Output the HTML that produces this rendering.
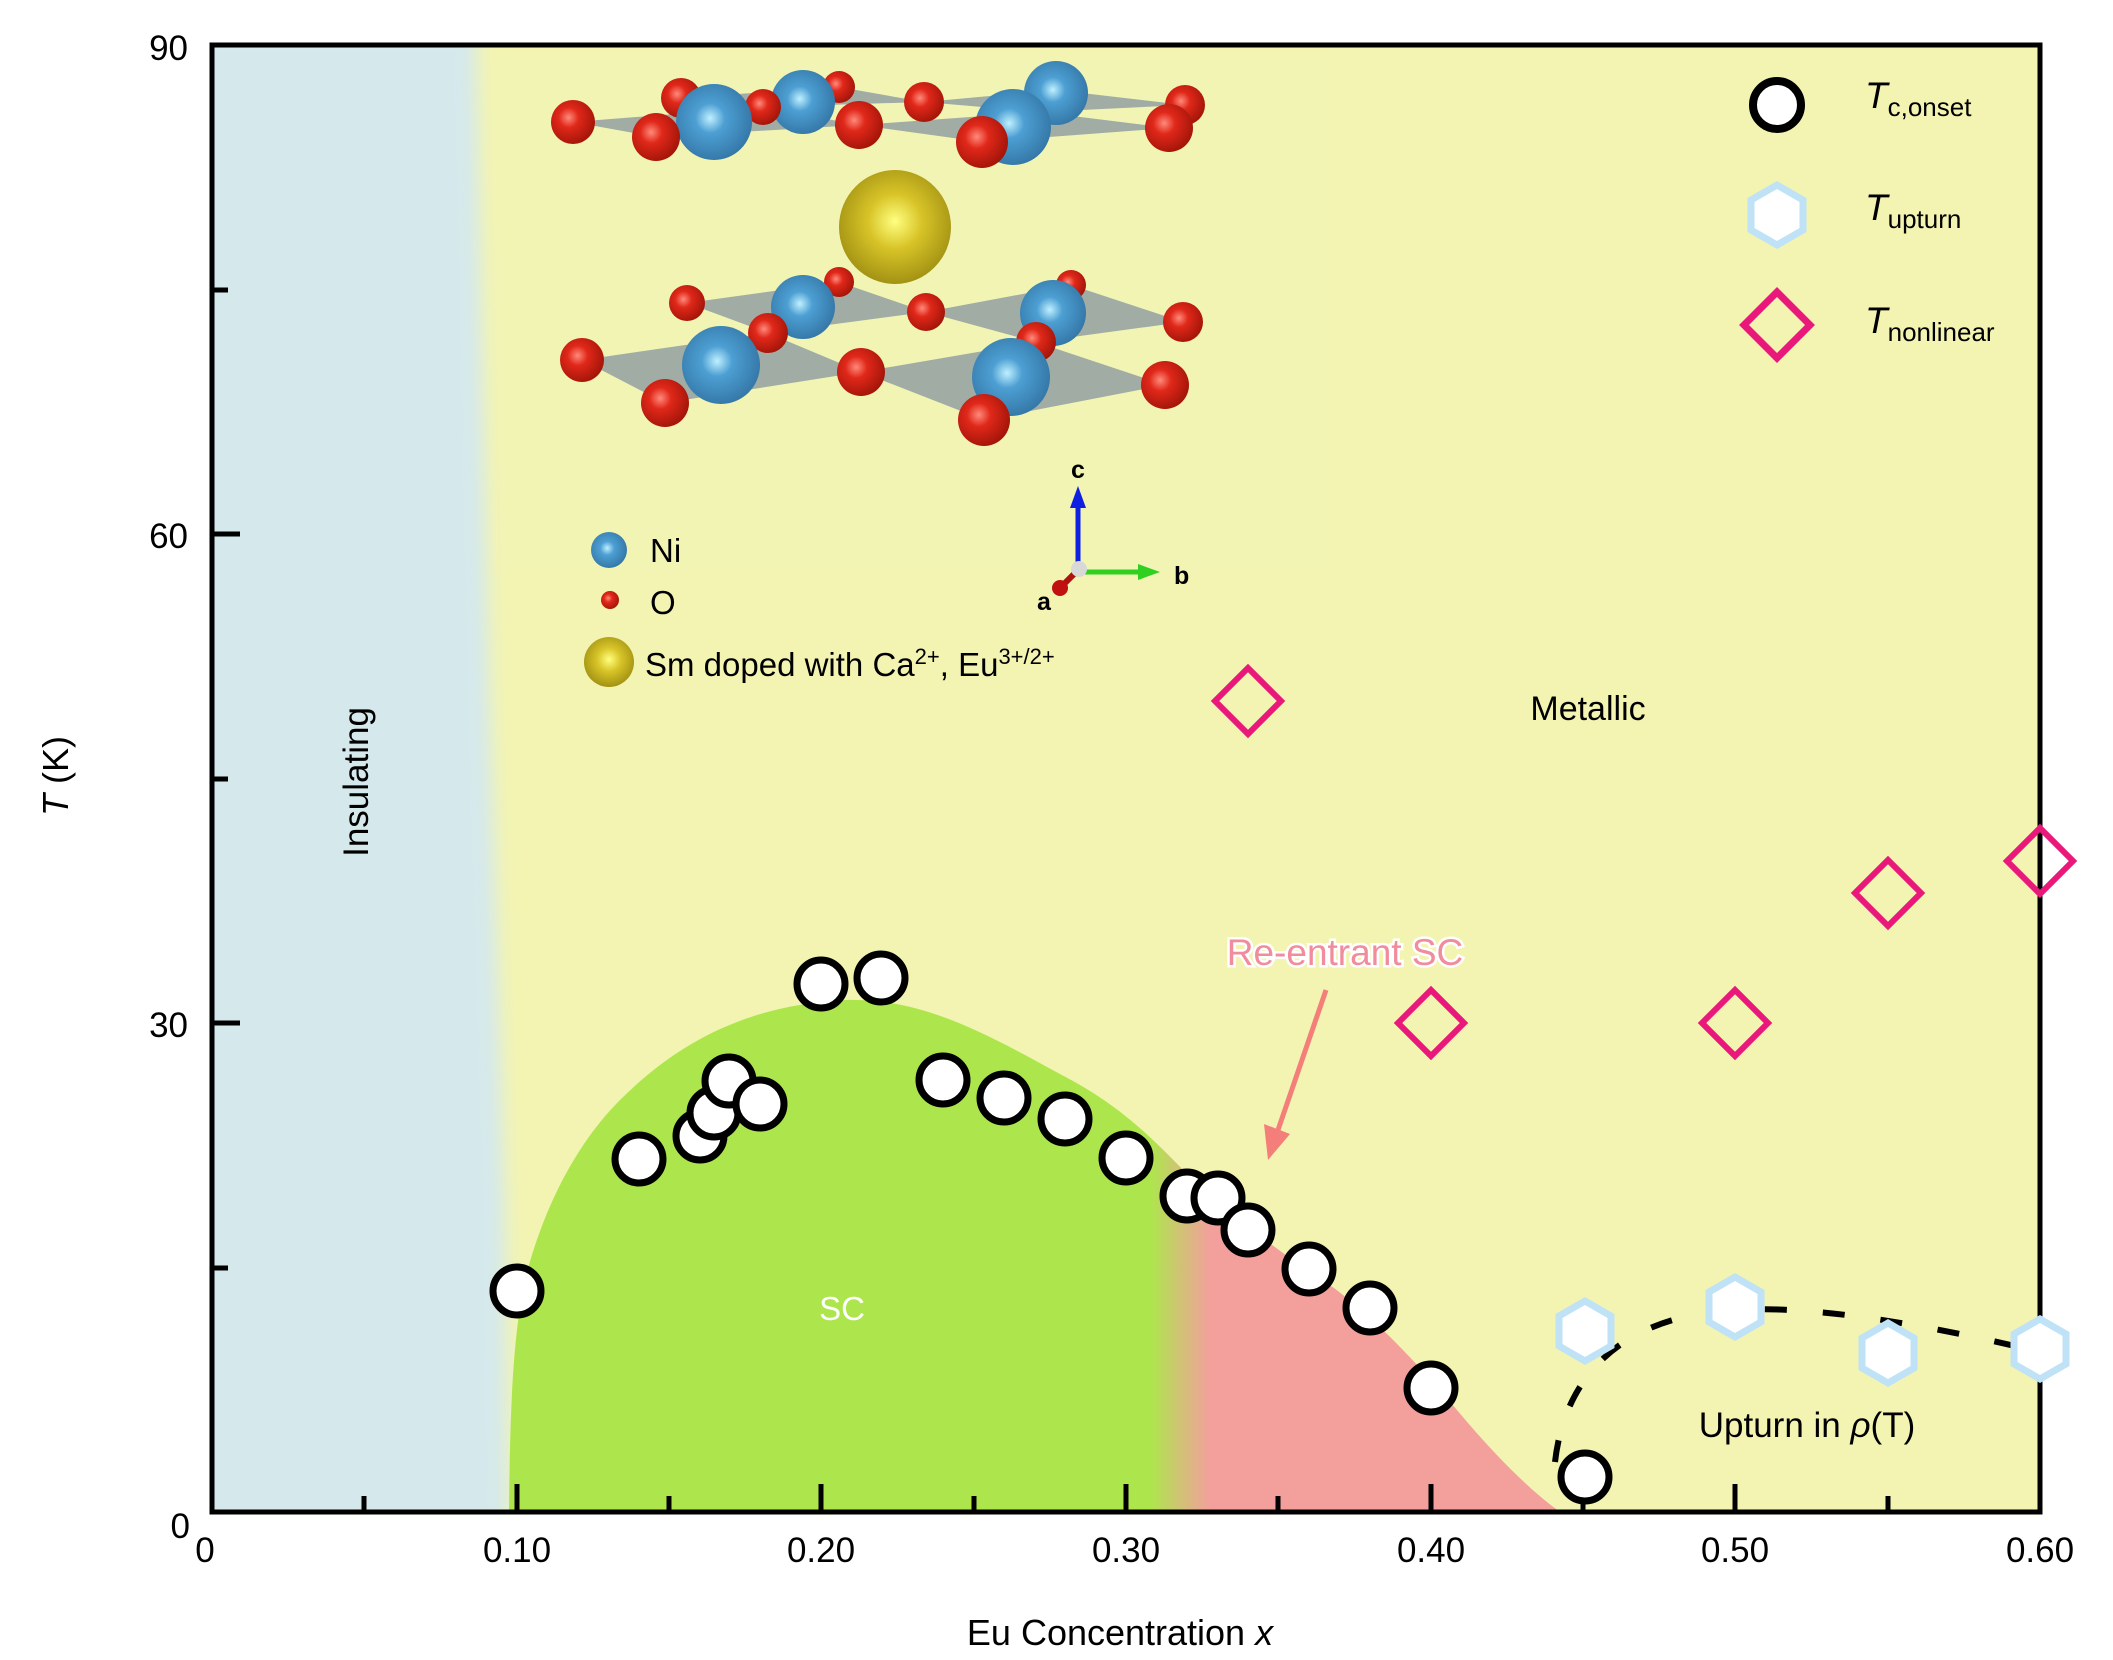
<!DOCTYPE html>
<html><head><meta charset="utf-8"><style>
html,body{margin:0;padding:0;background:#fff;}
svg{display:block;font-family:"Liberation Sans",Arial,sans-serif;}
</style></head><body>
<svg width="2113" height="1660" viewBox="0 0 2113 1660" xmlns="http://www.w3.org/2000/svg">
<defs>
<filter id="blur" x="-20%" y="-5%" width="140%" height="110%"><feGaussianBlur stdDeviation="9"/></filter>
<linearGradient id="dome" gradientUnits="userSpaceOnUse" x1="1150" x2="1210" y1="0" y2="0">
<stop offset="0" stop-color="#ade64c"/><stop offset="1" stop-color="#f3a09c"/></linearGradient>
<radialGradient id="gO" cx="0.4" cy="0.4" r="0.65"><stop offset="0" stop-color="#ff8a7a"/><stop offset="0.35" stop-color="#e0281a"/><stop offset="1" stop-color="#a01408"/></radialGradient>
<radialGradient id="gN" cx="0.45" cy="0.45" r="0.65"><stop offset="0" stop-color="#bff0ff"/><stop offset="0.3" stop-color="#4d9fd3"/><stop offset="1" stop-color="#2f6f9e"/></radialGradient>
<radialGradient id="gS" cx="0.5" cy="0.45" r="0.6"><stop offset="0" stop-color="#ffff80"/><stop offset="0.4" stop-color="#d8c428"/><stop offset="1" stop-color="#9a8a10"/></radialGradient>
<clipPath id="plot"><rect x="212" y="45" width="1828" height="1467"/></clipPath>
</defs>
<g clip-path="url(#plot)">
<rect x="212" y="45" width="1828" height="1467" fill="#f3f4b2"/>
<path d="M150,30 L476,30 L490,700 L505,1200 L509,1530 L150,1530 Z" fill="#d5e9ec" filter="url(#blur)"/>
<rect x="495" y="60" width="832" height="512" fill="#f2f3b6" opacity="0.6"/>
<path d="M509,1512 C510,1420 512,1340 525,1280 C540,1220 570,1150 620,1100 C680,1040 750,1005 845,1000 C920,998 980,1030 1060,1074 C1110,1100 1140,1125 1186,1173 C1230,1215 1290,1260 1334,1288 C1390,1330 1440,1390 1468,1423 C1500,1460 1530,1490 1560,1512 Z" fill="url(#dome)"/>
</g>
<!-- crystal -->
<g>
<g fill="#5f7398" opacity="0.55">
<polygon points="681,98 839,87 924,102 763,107"/>
<polygon points="924,102 1056,90 1185,105 1040,112"/>
<polygon points="573,122 763,107 859,125 656,137"/>
<polygon points="859,125 1040,112 1169,128 982,142"/>
<polygon points="687,303 839,282 926,312 768,333"/>
<polygon points="926,312 1071,285 1183,322 1036,342"/>
<polygon points="582,360 768,333 861,372 665,403"/>
<polygon points="861,372 1036,342 1165,385 984,420"/>
</g>
<circle cx="681" cy="98" r="20" fill="url(#gO)"/><circle cx="839" cy="87" r="16" fill="url(#gO)"/>
<circle cx="803" cy="102" r="32" fill="url(#gN)"/><circle cx="1056" cy="93" r="32" fill="url(#gN)"/>
<circle cx="763" cy="107" r="18" fill="url(#gO)"/><circle cx="924" cy="102" r="20" fill="url(#gO)"/><circle cx="1185" cy="105" r="20" fill="url(#gO)"/>
<circle cx="714" cy="122" r="38" fill="url(#gN)"/><circle cx="1013" cy="127" r="38" fill="url(#gN)"/>
<circle cx="573" cy="122" r="22" fill="url(#gO)"/><circle cx="656" cy="137" r="24" fill="url(#gO)"/><circle cx="859" cy="125" r="24" fill="url(#gO)"/><circle cx="982" cy="142" r="26" fill="url(#gO)"/><circle cx="1169" cy="128" r="24" fill="url(#gO)"/>
<ellipse cx="895" cy="227" rx="56" ry="57" fill="url(#gS)"/>
<circle cx="839" cy="282" r="15" fill="url(#gO)"/><circle cx="1071" cy="285" r="15" fill="url(#gO)"/>
<circle cx="803" cy="307" r="32" fill="url(#gN)"/><circle cx="1053" cy="313" r="33" fill="url(#gN)"/>
<circle cx="687" cy="303" r="18" fill="url(#gO)"/><circle cx="926" cy="312" r="19" fill="url(#gO)"/><circle cx="1183" cy="322" r="20" fill="url(#gO)"/>
<circle cx="768" cy="333" r="20" fill="url(#gO)"/><circle cx="1036" cy="342" r="20" fill="url(#gO)"/>
<circle cx="721" cy="365" r="39" fill="url(#gN)"/><circle cx="1011" cy="377" r="39" fill="url(#gN)"/>
<circle cx="582" cy="360" r="22" fill="url(#gO)"/><circle cx="861" cy="372" r="24" fill="url(#gO)"/><circle cx="665" cy="403" r="24" fill="url(#gO)"/><circle cx="984" cy="420" r="26" fill="url(#gO)"/><circle cx="1165" cy="385" r="24" fill="url(#gO)"/>
<!-- legend inset -->
<circle cx="609" cy="550" r="18" fill="url(#gN)"/><circle cx="610" cy="600" r="9" fill="url(#gO)"/><circle cx="609" cy="662" r="25" fill="url(#gS)"/>
<text x="650" y="562" font-size="33">Ni</text>
<text x="650" y="614" font-size="33">O</text>
<text x="645" y="676" font-size="33">Sm doped with Ca<tspan dy="-12" font-size="22">2+</tspan><tspan dy="12">, Eu</tspan><tspan dy="-12" font-size="22">3+/2+</tspan></text>
<line x1="1078" y1="567" x2="1078" y2="505" stroke="#1020e0" stroke-width="5"/><polygon points="1070,508 1086,508 1078,486" fill="#1020e0"/>
<line x1="1078" y1="572" x2="1140" y2="572" stroke="#30d020" stroke-width="5"/><polygon points="1138,564 1138,580 1160,572" fill="#30d020"/>
<line x1="1078" y1="570" x2="1062" y2="586" stroke="#b01010" stroke-width="6"/><circle cx="1060" cy="588" r="8" fill="#c01010"/>
<circle cx="1079" cy="569" r="8" fill="#d8d8d8"/>
<text x="1078" y="478" font-size="25" font-weight="bold" text-anchor="middle">c</text>
<text x="1174" y="584" font-size="25" font-weight="bold">b</text>
<text x="1044" y="610" font-size="25" font-weight="bold" text-anchor="middle">a</text>
</g>
<!-- axes -->
<g stroke="#000" stroke-width="5">
<rect x="212" y="45" width="1828" height="1467" fill="none"/>
<line x1="212" y1="1268" x2="228" y2="1268"/><line x1="212" y1="779" x2="228" y2="779"/><line x1="212" y1="290" x2="228" y2="290"/>
<line x1="212" y1="1023" x2="240" y2="1023"/><line x1="212" y1="534" x2="240" y2="534"/>
<line x1="364" y1="1512" x2="364" y2="1496"/><line x1="517" y1="1512" x2="517" y2="1484"/><line x1="669" y1="1512" x2="669" y2="1496"/><line x1="821" y1="1512" x2="821" y2="1484"/><line x1="974" y1="1512" x2="974" y2="1496"/><line x1="1126" y1="1512" x2="1126" y2="1484"/><line x1="1278" y1="1512" x2="1278" y2="1496"/><line x1="1431" y1="1512" x2="1431" y2="1484"/><line x1="1583" y1="1512" x2="1583" y2="1496"/><line x1="1735" y1="1512" x2="1735" y2="1484"/><line x1="1888" y1="1512" x2="1888" y2="1496"/>
</g>
<g font-size="35" text-anchor="end">
<text x="188" y="60">90</text><text x="188" y="548">60</text><text x="188" y="1037">30</text><text x="190" y="1538">0</text>
</g>
<g font-size="35" text-anchor="middle">
<text x="205" y="1562">0</text><text x="517" y="1562">0.10</text><text x="821" y="1562">0.20</text><text x="1126" y="1562">0.30</text><text x="1431" y="1562">0.40</text><text x="1735" y="1562">0.50</text><text x="2040" y="1562">0.60</text>
</g>
<text x="1120" y="1645" font-size="36" text-anchor="middle">Eu Concentration <tspan font-style="italic">x</tspan></text>
<text transform="translate(68,776) rotate(-90)" font-size="36" text-anchor="middle"><tspan font-style="italic">T</tspan> (K)</text>
<text transform="translate(368,782) rotate(-90)" font-size="35" text-anchor="middle">Insulating</text>
<text x="1588" y="720" font-size="34" text-anchor="middle">Metallic</text>
<text x="842" y="1320" font-size="33" fill="#fff" text-anchor="middle">SC</text>
<text x="1345" y="965" font-size="37" fill="#f08c9c" stroke="#fff" stroke-width="5" paint-order="stroke" text-anchor="middle">Re-entrant SC</text>
<line x1="1326" y1="990" x2="1278" y2="1130" stroke="#f47f7a" stroke-width="5"/>
<polygon points="1264,1124 1290,1134 1268,1160" fill="#f47f7a"/>
<text x="1807" y="1437" font-size="35" text-anchor="middle">Upturn in <tspan font-style="italic">ρ</tspan>(T)</text>
<path d="M1555,1462 C1562,1400 1595,1340 1680,1318 C1760,1296 1900,1318 2040,1352" fill="none" stroke="#000" stroke-width="6" stroke-dasharray="22,36"/>
<g fill="none" stroke="#e8197a" stroke-width="6">
<polygon points="1248,668 1281,701 1248,734 1215,701"/>
<polygon points="1431,990 1464,1023 1431,1056 1398,1023"/>
<polygon points="1735,990 1768,1023 1735,1056 1702,1023"/>
<polygon points="1888,860 1921,893 1888,926 1855,893"/>
<polygon points="2040,828 2073,861 2040,894 2007,861"/>
</g>
<g fill="#fff" stroke="#bfe2f7" stroke-width="7">
<polygon points="1585,1301 1611,1316 1611,1346 1585,1361 1559,1346 1559,1316"/>
<polygon points="1735,1277 1761,1292 1761,1322 1735,1337 1709,1322 1709,1292"/>
<polygon points="1888,1323 1914,1338 1914,1368 1888,1383 1862,1368 1862,1338"/>
<polygon points="2040,1319 2066,1334 2066,1364 2040,1379 2014,1364 2014,1334"/>
</g>
<g fill="#fff" stroke="#000" stroke-width="7">
<circle cx="517" cy="1291" r="24"/><circle cx="639" cy="1159" r="24"/>
<circle cx="700" cy="1136" r="24"/><circle cx="714" cy="1113" r="24"/><circle cx="729" cy="1081" r="24"/><circle cx="760" cy="1104" r="24"/>
<circle cx="821" cy="984" r="24"/><circle cx="881" cy="978" r="24"/>
<circle cx="943" cy="1080" r="24"/><circle cx="1004" cy="1098" r="24"/><circle cx="1065" cy="1119" r="24"/><circle cx="1126" cy="1158" r="24"/>
<circle cx="1187" cy="1196" r="24"/><circle cx="1218" cy="1198" r="24"/><circle cx="1248" cy="1230" r="24"/><circle cx="1309" cy="1269" r="24"/><circle cx="1370" cy="1308" r="24"/><circle cx="1431" cy="1388" r="24"/><circle cx="1585" cy="1477" r="24"/>
</g>
<circle cx="1777" cy="105" r="24" fill="#fff" stroke="#000" stroke-width="8"/>
<polygon points="1777,185 1803,200 1803,230 1777,245 1751,230 1751,200" fill="#fff" stroke="#bfe2f7" stroke-width="7"/>
<polygon points="1777,292 1810,325 1777,358 1744,325" fill="none" stroke="#e8197a" stroke-width="7"/>
<g font-size="37"><text x="1865" y="108" font-style="italic">T<tspan font-style="normal" font-size="26" dy="8">c,onset</tspan></text>
<text x="1865" y="220" font-style="italic">T<tspan font-style="normal" font-size="26" dy="8">upturn</tspan></text>
<text x="1865" y="333" font-style="italic">T<tspan font-style="normal" font-size="26" dy="8">nonlinear</tspan></text></g>
</svg>
</body></html>
